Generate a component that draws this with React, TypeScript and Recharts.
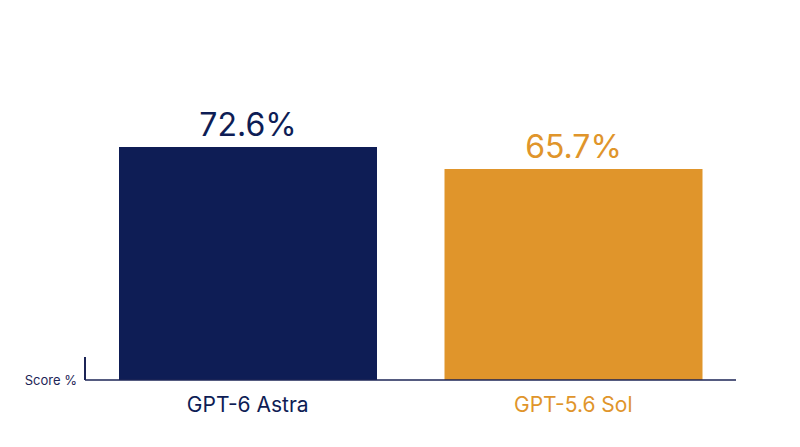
import { BarChart, Bar, XAxis, YAxis, Cell, LabelList } from 'recharts';

const models = ['GPT-6 Astra', 'GPT-5.6 Sol'];
const scores = [72.6, 65.7];
const colors = ['#0e1d55', '#e0952b'];

const data = models.map((name, i) => ({ name, score: scores[i] }));

const font = 'Inter, "Noto Sans", sans-serif';

function ModelTick(props: any) {
  const { x, y, payload, index } = props;
  return (
    <text x={x} y={y} dy={24} textAnchor="middle" fontSize={21} fontFamily={font} fill={colors[index]}>
      {payload.value}
    </text>
  );
}

function ValueLabel(props: any) {
  const { x, y, width, value, index } = props;
  return (
    <text x={x + width / 2} y={y - 11} textAnchor="middle" fontSize={32} fontFamily={font} fill={colors[index]}>
      {`${value}%`}
    </text>
  );
}

export default function App() {
  return (
    <div style={{ position: 'relative', width: 784, height: 431, fontFamily: font }}>
      <BarChart width={784} height={431} data={data} margin={{ top: 51, right: 56, bottom: 29, left: 17 }}>
        <XAxis dataKey="name" axisLine={{ stroke: '#1c2456', strokeWidth: 1.5 }} tickLine={false} tick={<ModelTick />} interval={0} />
        <YAxis
          width={60}
          domain={[0, 100]}
          ticks={[0]}
          axisLine={false}
          tickLine={false}
          tickFormatter={() => 'Score %'}
          tick={{ fontSize: 13, fill: '#1c2456', fontFamily: font }}
        />
        <Bar dataKey="score" barSize={258} isAnimationActive={false}>
          {data.map((d, i) => (
            <Cell key={d.name} fill={colors[i]} />
          ))}
          <LabelList dataKey="score" content={<ValueLabel />} />
        </Bar>
      </BarChart>
      <div style={{ position: 'absolute', left: 76, top: 349, width: 1.5, height: 23, background: '#1c2456' }} />
    </div>
  );
}
